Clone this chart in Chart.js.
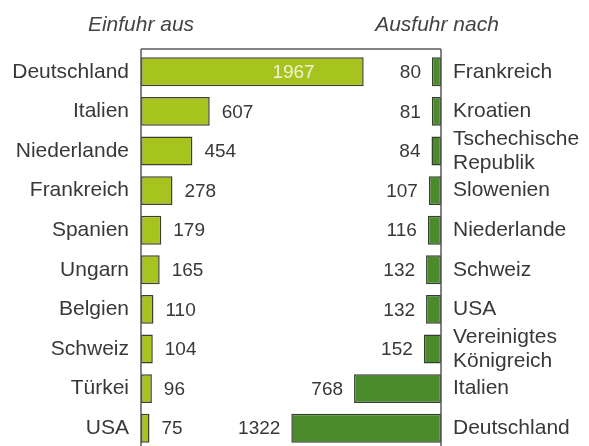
<!DOCTYPE html>
<html>
<head>
<meta charset="utf-8">
<script src="https://cdn.jsdelivr.net/npm/chart.js@4/dist/chart.umd.min.js"></script>
<style>
  html, body { margin: 0; padding: 0; background: #ffffff; overflow: hidden; }
  #wrap { width: 589px; height: 448px; }
</style>
</head>
<body>
<div id="wrap"><canvas id="c" width="589" height="448"></canvas></div>
<script>
const titelLinks = 'Einfuhr aus';
const titelRechts = 'Ausfuhr nach';
const einfuhrLaender = ['Deutschland', 'Italien', 'Niederlande', 'Frankreich', 'Spanien', 'Ungarn', 'Belgien', 'Schweiz', 'Türkei', 'USA'];
const einfuhrWerte = [1967, 607, 454, 278, 179, 165, 110, 104, 96, 75];
const ausfuhrLaender = ['Frankreich', 'Kroatien', ['Tschechische', 'Republik'], 'Slowenien', 'Niederlande', 'Schweiz', 'USA', ['Vereinigtes', 'Königreich'], 'Italien', 'Deutschland'];
const ausfuhrWerte = [80, 81, 84, 107, 116, 132, 132, 152, 768, 1322];
const skalaMax = 2650;

const FONT = '"Liberation Sans", Arial, Helvetica, sans-serif';
const TEXT = '#383838';

const framePlugin = {
  id: 'frame',
  afterDatasetsDraw(chart) {
    const ctx = chart.ctx;
    const a = chart.chartArea;
    const top = a.top - 3;
    ctx.save();
    ctx.strokeStyle = '#5a5a5a';
    ctx.lineWidth = 1.5;
    ctx.beginPath();
    ctx.moveTo(a.left, top);
    ctx.lineTo(a.right, top);
    ctx.moveTo(a.left, top);
    ctx.lineTo(a.left, chart.height);
    ctx.moveTo(a.right, top);
    ctx.lineTo(a.right, chart.height);
    ctx.stroke();

    // titles
    ctx.fillStyle = '#444444';
    ctx.font = 'italic 21px ' + FONT;
    ctx.textAlign = 'center';
    ctx.textBaseline = 'alphabetic';
    ctx.fillText(titelLinks, a.left, 31);
    ctx.fillText(titelRechts, a.right - 4, 31);

    // value labels
    ctx.font = '19px ' + FONT;
    ctx.textBaseline = 'middle';
    const metaL = chart.getDatasetMeta(0);
    const maxL = Math.max(...einfuhrWerte);
    metaL.data.forEach((bar, i) => {
      const v = einfuhrWerte[i];
      if (v === maxL && v > skalaMax * 0.6) {
        ctx.fillStyle = '#eef3d6';
        ctx.textAlign = 'right';
        ctx.fillText(String(v), bar.x - 49, bar.y + 1);
      } else {
        ctx.fillStyle = TEXT;
        ctx.textAlign = 'left';
        ctx.fillText(String(v), bar.x + 12, bar.y + 1);
      }
    });
    const metaR = chart.getDatasetMeta(1);
    metaR.data.forEach((bar, i) => {
      ctx.fillStyle = TEXT;
      ctx.textAlign = 'right';
      ctx.fillText(String(ausfuhrWerte[i]), bar.x - 11, bar.y + 1);
    });
    ctx.restore();
  }
};

function noPad(scale, w) {
  scale.width = w;
  scale.paddingTop = 0;
  scale.paddingBottom = 0;
}

new Chart(document.getElementById('c'), {
  type: 'bar',
  data: {
    labels: einfuhrLaender,
    datasets: [
      {
        data: einfuhrWerte,
        xAxisID: 'x',
        yAxisID: 'y',
        backgroundColor: '#a6c31e',
        borderColor: '#3e3f30',
        borderWidth: 1.5,
        borderSkipped: false,
        grouped: false,
        barPercentage: 0.73,
        categoryPercentage: 1
      },
      {
        data: ausfuhrWerte,
        xAxisID: 'x2',
        yAxisID: 'y2',
        backgroundColor: '#4b8b2c',
        borderColor: '#34402c',
        borderWidth: 1.5,
        borderSkipped: false,
        grouped: false,
        barPercentage: 0.73,
        categoryPercentage: 1
      }
    ]
  },
  options: {
    indexAxis: 'y',
    responsive: false,
    animation: false,
    devicePixelRatio: 1,
    layout: { padding: { top: 52, bottom: 0, left: 0, right: 0 } },
    plugins: { legend: { display: false }, tooltip: { enabled: false } },
    scales: {
      x: { type: 'linear', min: 0, max: skalaMax, display: false },
      x2: { type: 'linear', min: 0, max: skalaMax, reverse: true, display: false, position: 'bottom' },
      y: {
        type: 'category',
        labels: einfuhrLaender,
        position: 'left',
        offset: true,
        grid: { display: false },
        border: { display: false },
        ticks: { font: { family: FONT, size: 21 }, color: TEXT, padding: 4, autoSkip: false },
        afterFit(scale) { noPad(scale, 141); }
      },
      y2: {
        type: 'category',
        labels: ausfuhrLaender,
        position: 'right',
        offset: true,
        grid: { display: false },
        border: { display: false },
        ticks: { font: { family: FONT, size: 21, lineHeight: 1.12 }, color: TEXT, padding: 4, autoSkip: false },
        afterFit(scale) { noPad(scale, 148); }
      }
    }
  },
  plugins: [framePlugin]
});
</script>
</body>
</html>
